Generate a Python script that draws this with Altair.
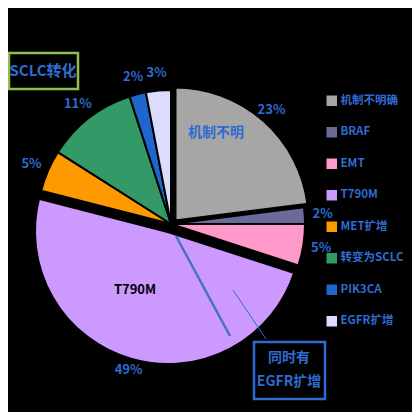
import altair as alt
import pandas as pd

categories = ["机制不明确", "BRAF", "EMT", "T790M", "MET扩增", "转变为SCLC", "PIK3CA", "EGFR扩增"]
values = [23, 2, 5, 49, 5, 11, 2, 3]
labels = ["23%", "2%", "5%", "49%", "5%", "11%", "2%", "3%"]
colors = ["#a6a6a6", "#6b6b9b", "#ff99c9", "#cc99ff", "#ff9900", "#339966", "#1f66cc", "#dcdcff"]

df = pd.DataFrame({"cat": categories, "val": values, "lab": labels, "idx": list(range(len(categories)))})

BLUE = "#2f6bd0"
FONT = "Noto Sans CJK SC"
CX, CY, R = 163, 216, 134

theta = alt.Theta("val:Q", stack=True)
order = alt.Order("idx:Q")
color_legend = alt.Color(
    "cat:N",
    scale=alt.Scale(domain=categories, range=colors),
    sort=categories,
    legend=alt.Legend(
        title=None, orient="none", legendX=318, legendY=87,
        symbolType="square", symbolSize=110, symbolStrokeWidth=0, labelOffset=3,
        labelColor=BLUE, labelFontSize=11.5, labelFont=FONT, labelFontWeight="bold",
        rowPadding=18.5, labelLimit=200,
    ),
)
color_nolegend = alt.Color("cat:N", scale=alt.Scale(domain=categories, range=colors), legend=None)

exploded = ["机制不明确", "T790M"]

base = alt.Chart(df).mark_arc(radius=R, stroke="black", strokeWidth=2).encode(
    theta=theta, order=order, color=color_legend,
    x=alt.value(CX), y=alt.value(CY),
    opacity=alt.condition(alt.FieldOneOfPredicate(field="cat", oneOf=exploded), alt.value(0), alt.value(1)),
)

gray_l = alt.Chart(df).mark_arc(radius=R, stroke="black", strokeWidth=3).encode(
    theta=theta, order=order, color=color_nolegend,
    x=alt.value(CX + 4), y=alt.value(CY - 3),
    opacity=alt.condition(alt.datum.cat == "机制不明确", alt.value(1), alt.value(0)),
)

t790_l = alt.Chart(df).mark_arc(radius=R, stroke="black", strokeWidth=4).encode(
    theta=theta, order=order, color=color_nolegend,
    x=alt.value(CX - 3), y=alt.value(CY + 7),
    opacity=alt.condition(alt.datum.cat == "T790M", alt.value(1), alt.value(0)),
)

pct = alt.Chart(df).mark_text(
    radius=R + 18, fontSize=13, font=FONT, fontWeight="bold", color=BLUE
).encode(theta=theta, order=order, text="lab:N", x=alt.value(CX), y=alt.value(CY))

# annotations
ann = pd.DataFrame({"t": ["x"]})

blue_line = alt.Chart(ann).mark_rule(color="#4472c4", strokeWidth=2.5).encode(
    x=alt.value(168), y=alt.value(228), x2=alt.value(222), y2=alt.value(328))
arrow_line = alt.Chart(ann).mark_rule(color=BLUE, strokeWidth=1).encode(
    x=alt.value(225), y=alt.value(282), x2=alt.value(258), y2=alt.value(331))

box2 = alt.Chart(ann).mark_rect(fill="black", stroke=BLUE, strokeWidth=2.5).encode(
    x=alt.value(246), y=alt.value(334), x2=alt.value(317), y2=alt.value(391))
box2_t1 = alt.Chart(ann).mark_text(text="同时有", fontSize=14, font=FONT, fontWeight="bold", color=BLUE).encode(
    x=alt.value(281), y=alt.value(350))
box2_t2 = alt.Chart(ann).mark_text(text="EGFR扩增", fontSize=14, font=FONT, fontWeight="bold", color=BLUE).encode(
    x=alt.value(281), y=alt.value(374))

box1 = alt.Chart(ann).mark_rect(fill="black", stroke="#8fc04f", strokeWidth=2.5).encode(
    x=alt.value(1), y=alt.value(45), x2=alt.value(70), y2=alt.value(81))
box1_t = alt.Chart(ann).mark_text(text="SCLC转化", fontSize=15, font=FONT, fontWeight="bold", color=BLUE).encode(
    x=alt.value(35), y=alt.value(63))

in1 = alt.Chart(ann).mark_text(text="机制不明", fontSize=14, font=FONT, fontWeight="bold", color=BLUE).encode(
    x=alt.value(208), y=alt.value(125))
in2 = alt.Chart(ann).mark_text(text="T790M", fontSize=13, font=FONT, fontWeight="bold", color="black").encode(
    x=alt.value(127), y=alt.value(282))

chart = alt.layer(
    base, gray_l, t790_l, pct, blue_line, arrow_line, box2, box2_t1, box2_t2, box1, box1_t, in1, in2
).properties(
    width=404, height=404, background="black", padding=0,
    autosize=alt.AutoSizeParams(type="none"),
).configure_view(stroke=None)

chart.save("out.html", embed_options={"renderer": "svg", "actions": False})
